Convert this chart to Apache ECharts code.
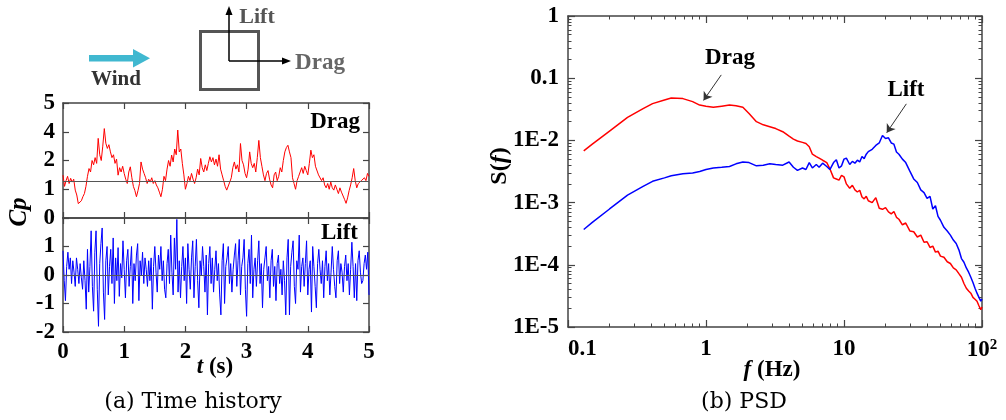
<!DOCTYPE html>
<html>
<head>
<meta charset="utf-8">
<script src="https://cdn.jsdelivr.net/npm/echarts@6/dist/echarts.min.js"></script>
<style>
  html, body { margin: 0; padding: 0; background: #fff; }
  #chart { width: 1006px; height: 420px; }
</style>
</head>
<body>
<div id="chart"></div>
<script>
// ---- time history: pressure coefficients Cp ----
const dragStep = 0.025;   // s between drag samples
const dragCp = [
  1.49,1.1,1.3,1.45,1.2,1.38,1.25,1.35,0.97,0.8,
  0.5,0.45,0.6,0.74,0.85,1.1,1.45,1.72,1.6,2.0,
  1.85,2.1,1.9,2.77,2.2,2.0,2.5,3.11,2.6,2.42,
  2.55,2.3,2.1,2.2,1.9,2.05,1.49,1.75,1.6,1.8,
  1.55,1.35,1.2,1.6,1.78,1.4,1.1,0.95,0.74,0.95,
  1.2,1.95,1.7,1.55,1.4,1.2,1.35,1.25,1.4,1.2,
  1.3,1.15,1.05,0.9,0.74,1.0,1.45,1.3,1.7,2.0,
  1.8,2.19,1.95,2.4,2.2,3.06,2.3,2.4,1.9,1.5,
  1.0,1.2,1.45,1.3,1.55,1.35,1.2,1.4,1.7,1.5,
  2.07,1.75,1.6,1.85,1.65,1.9,2.13,1.95,2.1,1.85,
  2.05,1.8,2.2,1.7,1.5,1.3,1.1,0.97,0.95,1.25,
  1.4,1.75,1.95,1.7,1.85,1.6,2.59,2.0,1.85,1.55,
  1.4,1.7,2.3,1.9,1.75,1.9,1.6,2.1,2.7,2.1,
  1.8,1.5,1.3,1.55,1.65,1.35,1.15,1.05,1.5,1.6,
  1.3,1.45,1.75,1.6,2.0,2.3,2.45,2.53,2.3,2.1,
  1.4,1.2,1.0,1.3,1.45,1.6,1.75,1.55,1.8,1.65,
  1.5,1.9,2.36,2.1,2.2,1.8,1.75,1.5,1.45,1.3,
  1.4,1.15,1.05,1.2,1.0,1.25,1.05,0.97,1.15,1.0,
  0.85,1.05,0.9,0.85,0.65,0.51,0.7,0.95,1.15,1.4,
  1.72,1.3,1.05,1.2,1.15,1.3,1.25,1.4,1.3,1.55,1.45
];
const dragMean = 1.28;

const liftStep = 0.02;    // s between lift samples
const liftCp = [
  0.85,-0.2,-0.9,0.3,0.8,   0.2,0.6,-0.3,0.5,0.1,
  -0.4,0.6,0.2,-0.3,0.4,    -0.1,-0.5,0.5,-0.2,-1.2,
  0.9,-0.6,0.3,1.55,-0.4,   -1.27,0.8,1.55,-0.5,-1.8,
  0.4,1.1,1.65,-0.6,-1.56,  0.5,1.0,-0.7,0.3,0.9,
  -0.3,1.3,-1.0,0.6,-0.2,   0.96,-0.75,0.4,-0.1,1.2,
  0.2,-0.8,0.5,0.9,-0.4,    0.3,1.0,-1.0,0.4,-0.2,
  0.7,1.1,-0.9,0.5,0.0,     0.8,-0.3,0.6,0.2,-0.4,
  0.5,-0.2,0.6,-1.2,0.3,    1.0,0.1,-0.6,0.7,0.2,
  1.0,-0.2,0.5,-0.5,-0.8,   0.4,0.9,-0.3,1.4,0.1,
  -0.7,1.3,0.2,1.95,-0.6,   0.5,-0.8,0.3,1.0,-0.2,
  0.6,-1.0,1.1,0.2,-0.5,    0.6,1.2,-0.8,0.3,1.25,
  -0.2,-1.15,0.5,0.0,1.0,   0.3,-0.6,0.7,-1.4,0.4,
  1.0,-0.3,0.6,-0.6,0.2,    0.85,-0.2,0.4,-0.7,-1.4,
  0.5,1.1,-1.0,0.3,0.6,     1.0,-0.3,0.4,-0.6,0.2,
  0.7,1.1,-0.4,0.5,1.25,    -0.7,0.3,0.6,1.25,-0.5,
  -1.45,0.4,0.9,-0.3,1.4,   -0.8,0.2,0.6,-0.4,0.5,
  1.2,-0.3,0.4,-1.15,0.2,   0.6,1.0,-0.2,0.3,-0.8,
  0.5,0.9,-0.4,0.3,-0.9,    0.4,0.7,-0.3,0.2,-0.7,
  0.5,-0.2,-1.4,0.6,1.25,   -1.4,0.3,0.8,1.2,-0.4,
  -1.0,0.5,0.2,1.4,-0.6,    0.3,0.6,-0.4,0.4,1.2,
  -0.7,0.2,0.5,-1.3,1.0,    0.3,-0.4,-1.15,0.4,0.9,
  0.2,-0.3,0.5,-0.8,0.3,    0.85,-0.2,0.4,-0.7,0.1,
  1.0,0.2,-0.4,-0.8,0.5,    0.85,-0.3,0.4,0.1,-0.6,
  0.3,0.7,-0.2,0.4,-0.7,    0.2,1.15,0.3,-0.8,0.4,
  -0.9,0.5,0.85,0.1,-0.3,   -0.2,0.4,0.7,0.2,0.8,
  -0.7
];

// Drag axis tick labels, one per unit step from the bottom
const dragTickLabels = ['0', '1', '2', '4', '5'];

// ---- power spectral density ----
const psdFreq = [
  0.13,0.15,0.2,0.27,0.35,0.41,0.5,0.56,0.68,0.8,
  0.9,1.0,1.13,1.3,1.48,1.65,1.85,2.05,2.32,2.6,
  2.9,3.2,3.6,4.0,4.3,4.6,5.0,5.3,5.6,5.9,
  6.3,6.6,7.0,7.5,7.9,8.4,8.8,9.2,9.6,10,
  10.4,11,11.5,12,12.5,13,13.5,14,14.5,15,
  16,17,18,19,20,21,22,23,24,25,
  26.5,28,30,32,34,36,38,40,42,44,
  46,48,50,53,56,59,62,65,68,71,
  74,77,80,83,86,89,92,95,98,100
];
const psdDrag = [
  6.8e-3,8.7e-3,0.0141,0.0234,0.0324,0.039,0.0447,0.048,0.047,0.042,
  0.037,0.0355,0.034,0.0355,0.037,0.036,0.034,0.027,0.020,0.0178,
  0.0166,0.0155,0.0138,0.0117,0.0105,9.8e-3,9.3e-3,8.9e-3,7.9e-3,6.0e-3,
  5.5e-3,5.2e-3,4.8e-3,4.4e-3,3.5e-3,2.5e-3,2.4e-3,2.3e-3,2.75e-3,2.6e-3,
  2.0e-3,1.7e-3,1.9e-3,1.6e-3,1.48e-3,1.58e-3,1.23e-3,1.15e-3,1.26e-3,1.07e-3,
  1.0e-3,1.2e-3,8.1e-4,7.8e-4,8.3e-4,7.1e-4,6.6e-4,7.2e-4,5.8e-4,5.4e-4,
  4.4e-4,4.7e-4,3.5e-4,3.4e-4,2.8e-4,3.0e-4,2.3e-4,2.35e-4,1.9e-4,2.0e-4,
  1.6e-4,1.66e-4,1.38e-4,1.32e-4,1.12e-4,1.05e-4,8.9e-5,8.3e-5,7.2e-5,6.3e-5,
  5.0e-5,4.2e-5,3.8e-5,3.5e-5,3.0e-5,2.8e-5,2.6e-5,2.2e-5,1.9e-5,2.1e-5
];
const psdLift = [
  3.7e-4,4.8e-4,7.9e-4,1.32e-3,1.82e-3,2.2e-3,2.5e-3,2.7e-3,2.9e-3,3.0e-3,
  3.16e-3,3.4e-3,3.6e-3,3.7e-3,3.8e-3,4.2e-3,4.5e-3,4.4e-3,3.9e-3,4.0e-3,
  4.2e-3,4.1e-3,4.0e-3,4.5e-3,3.7e-3,3.3e-3,3.6e-3,3.4e-3,4.4e-3,3.6e-3,
  4.1e-3,3.7e-3,4.3e-3,3.8e-3,3.4e-3,4.4e-3,4.9e-3,3.6e-3,3.9e-3,5.0e-3,
  5.2e-3,4.1e-3,4.6e-3,4.3e-3,4.8e-3,4.5e-3,5.5e-3,5.1e-3,6.0e-3,6.6e-3,
  7.2e-3,8.3e-3,9.1e-3,0.012,0.0107,0.011,9.1e-3,8.7e-3,6.5e-3,6.0e-3,
  5.0e-3,4.4e-3,3.2e-3,2.4e-3,2.1e-3,1.6e-3,1.45e-3,1.17e-3,1.26e-3,7.9e-4,
  8.9e-4,6.0e-4,5.2e-4,4.0e-4,3.5e-4,3.0e-4,2.5e-4,2.2e-4,1.74e-4,1.26e-4,
  1.1e-4,8.9e-5,7.6e-5,6.3e-5,5.2e-5,4.2e-5,3.5e-5,3.0e-5,2.6e-5,2.8e-5
];
const psdFreqTicks = [0.1, 1, 10, 100];
const psdLevelTicks = [1e-5, 1e-4, 1e-3, 1e-2, 0.1, 1];

// minor ticks at 2..9 within each decade
function minorTicks(decades) {
  const out = [];
  decades.forEach(d => { for (let k = 2; k <= 9; k++) out.push(+(d * k).toPrecision(3)); });
  return out;
}
const psdFreqMinor = minorTicks([0.1, 1, 10]);
const psdLevelMinor = minorTicks([1e-5, 1e-4, 1e-3, 1e-2, 0.1]);

// ---- styling ----
const AXIS = '#444';
const SERIF = "'Liberation Serif', 'Times New Roman', serif";
const tickFont = { fontFamily: SERIF, fontWeight: 'bold', fontSize: 23, color: '#000' };

function boxAxis(extra) {
  return Object.assign({
    splitLine: { show: false },
    axisLine: { show: true, onZero: false, lineStyle: { color: AXIS, width: 1.5 } },
    axisTick: { show: true, inside: true, length: 6, lineStyle: { color: AXIS, width: 1.2 } },
    axisLabel: { show: false }
  }, extra);
}
function minorAxis(extra, values) {
  return Object.assign({
    splitLine: { show: false },
    axisLine: { show: false },
    axisTick: { show: true, inside: true, length: 3.5, customValues: values,
                lineStyle: { color: AXIS, width: 1 } },
    axisLabel: { show: false }
  }, extra);
}

const timeX = { type: 'value', min: 0, max: 5, interval: 1 };
const freqX = { type: 'log', logBase: 10, min: 0.1, max: 100 };
const levelY = { type: 'log', logBase: 10, min: 1e-5, max: 1 };

function levelLabel(v) {
  const e = Math.round(Math.log10(v));
  return e >= -1 ? String(+v.toFixed(1)) : '1E' + e;
}
function freqLabel(v) {
  const e = Math.round(Math.log10(v));
  if (e < 0) return v.toFixed(-e);
  if (e < 2) return String(Math.round(v));
  return '{n|10}{s|' + e + '}';
}

const dragSeries = dragCp.map((v, i) => [+(i * dragStep).toFixed(3), v]);
const liftSeries = liftCp.map((v, i) => [+(i * liftStep).toFixed(3), v]);
const psdDragSeries = psdFreq.map((f, i) => [f, psdDrag[i]]);
const psdLiftSeries = psdFreq.map((f, i) => [f, psdLift[i]]);

const chart = echarts.init(document.getElementById('chart'), null, { renderer: 'canvas' });

const txt = (x, y, text, font, fill, extra) => Object.assign({
  type: 'text', x, y, silent: true,
  style: Object.assign({ text, font, fill: fill || '#000', align: 'center', verticalAlign: 'middle' }, extra || {})
}, {});

const option = {
  animation: false,
  backgroundColor: '#fff',
  grid: [
    { left: 63, top: 103, width: 306, height: 115, outerBoundsMode: 'none' },
    { left: 63, top: 218, width: 306, height: 114, outerBoundsMode: 'none' },
    { left: 568, top: 16, width: 414, height: 311, outerBoundsMode: 'none' }
  ],
  xAxis: [
    boxAxis(Object.assign({ gridIndex: 0, position: 'bottom' }, timeX)),
    boxAxis(Object.assign({ gridIndex: 0, position: 'top' }, timeX)),
    boxAxis(Object.assign({ gridIndex: 1, position: 'bottom',
      axisLabel: Object.assign({ show: true, margin: 9 }, tickFont) }, timeX)),
    boxAxis(Object.assign({ gridIndex: 1, position: 'top' }, timeX)),
    boxAxis(Object.assign({ gridIndex: 2, position: 'bottom',
      axisTick: { show: true, inside: true, length: 7, customValues: psdFreqTicks, lineStyle: { color: AXIS, width: 1.2 } },
      axisLabel: Object.assign({ show: true, margin: 11, customValues: psdFreqTicks, formatter: freqLabel,
        alignMinLabel: 'left',
        rich: {
          n: { fontFamily: SERIF, fontWeight: 'bold', fontSize: 23, color: '#000' },
          s: { fontFamily: SERIF, fontWeight: 'bold', fontSize: 15, color: '#000', verticalAlign: 'top', padding: [0, 0, 10, 0] }
        } }, tickFont) }, freqX)),
    minorAxis(Object.assign({ gridIndex: 2, position: 'bottom' }, freqX), psdFreqMinor),
    boxAxis(Object.assign({ gridIndex: 2, position: 'top',
      axisTick: { show: true, inside: true, length: 7, customValues: psdFreqTicks, lineStyle: { color: AXIS, width: 1.2 } } }, freqX)),
    minorAxis(Object.assign({ gridIndex: 2, position: 'top' }, freqX), psdFreqMinor)
  ],
  yAxis: [
    boxAxis({ gridIndex: 0, position: 'left', type: 'value', min: 0, max: 4, interval: 1,
      axisLabel: Object.assign({ show: true, margin: 8, formatter: v => dragTickLabels[v] }, tickFont) }),
    boxAxis({ gridIndex: 0, position: 'right', type: 'value', min: 0, max: 4, interval: 1 }),
    boxAxis({ gridIndex: 1, position: 'left', type: 'value', min: -2, max: 2, interval: 1,
      axisLabel: Object.assign({ show: true, margin: 8, showMaxLabel: false }, tickFont) }),
    boxAxis({ gridIndex: 1, position: 'right', type: 'value', min: -2, max: 2, interval: 1 }),
    boxAxis(Object.assign({ gridIndex: 2, position: 'left',
      axisTick: { show: true, inside: true, length: 7, customValues: psdLevelTicks, lineStyle: { color: AXIS, width: 1.2 } },
      axisLabel: Object.assign({ show: true, margin: 9, customValues: psdLevelTicks, formatter: levelLabel }, tickFont) }, levelY)),
    minorAxis(Object.assign({ gridIndex: 2, position: 'left' }, levelY), psdLevelMinor),
    boxAxis(Object.assign({ gridIndex: 2, position: 'right',
      axisTick: { show: true, inside: true, length: 7, customValues: psdLevelTicks, lineStyle: { color: AXIS, width: 1.2 } } }, levelY)),
    minorAxis(Object.assign({ gridIndex: 2, position: 'right' }, levelY), psdLevelMinor)
  ],
  series: [
    {
      name: 'Drag', type: 'line', xAxisIndex: 0, yAxisIndex: 0, data: dragSeries,
      showSymbol: false, symbol: 'none', lineStyle: { color: '#ff0000', width: 1 }, z: 3,
      markLine: { silent: true, symbol: 'none', label: { show: false },
        lineStyle: { color: '#555', width: 1, type: 'solid' }, data: [{ yAxis: dragMean }] }
    },
    {
      name: 'Lift', type: 'line', xAxisIndex: 2, yAxisIndex: 2, data: liftSeries,
      showSymbol: false, symbol: 'none', lineStyle: { color: '#0000ff', width: 1 }, z: 3,
      markLine: { silent: true, symbol: 'none', label: { show: false },
        lineStyle: { color: '#555', width: 1, type: 'solid' }, data: [{ yAxis: 0 }] }
    },
    {
      name: 'Drag PSD', type: 'line', xAxisIndex: 4, yAxisIndex: 4, data: psdDragSeries,
      showSymbol: false, symbol: 'none', lineStyle: { color: '#ff0000', width: 1.5 }, z: 3,
      markLine: { silent: true, symbol: ['none', 'arrow'], symbolSize: 8, label: { show: false },
        lineStyle: { color: '#333', width: 1, type: 'solid' },
        data: [[{ coord: [1.29, 0.113] }, { coord: [0.96, 0.044] }]] }
    },
    {
      name: 'Lift PSD', type: 'line', xAxisIndex: 4, yAxisIndex: 4, data: psdLiftSeries,
      showSymbol: false, symbol: 'none', lineStyle: { color: '#0000ff', width: 1.5 }, z: 3,
      markLine: { silent: true, symbol: ['none', 'arrow'], symbolSize: 8, label: { show: false },
        lineStyle: { color: '#333', width: 1, type: 'solid' },
        data: [[{ coord: [28.3, 0.0387] }, { coord: [20.4, 0.0133] }]] }
    }
  ],
  graphic: [
    // wind arrow
    { type: 'rect', silent: true, shape: { x: 89, y: 55, width: 45, height: 6.5 }, style: { fill: '#40b8d0' } },
    { type: 'polygon', silent: true, shape: { points: [[133, 49], [150, 58.3], [133, 67.6]] }, style: { fill: '#40b8d0' } },
    txt(116, 80, 'Wind', 'bold 21px ' + SERIF, '#333'),
    // body section with force directions
    { type: 'rect', silent: true, shape: { x: 200.5, y: 31.5, width: 58, height: 58 },
      style: { fill: 'none', stroke: '#555', lineWidth: 3 } },
    { type: 'line', silent: true, shape: { x1: 229, y1: 61, x2: 229, y2: 13 }, style: { stroke: '#000', lineWidth: 1.5 } },
    { type: 'polygon', silent: true, shape: { points: [[229, 6], [225.5, 15], [232.5, 15]] }, style: { fill: '#000' } },
    { type: 'line', silent: true, shape: { x1: 229, y1: 61, x2: 283, y2: 61 }, style: { stroke: '#000', lineWidth: 1.5 } },
    { type: 'polygon', silent: true, shape: { points: [[291, 61], [282, 57.5], [282, 64.5]] }, style: { fill: '#000' } },
    txt(257, 17, 'Lift', 'bold 22px ' + SERIF, '#555'),
    txt(320, 63, 'Drag', 'bold 23px ' + SERIF, '#666'),
    // panel labels
    txt(360, 122, 'Drag', 'bold 23px ' + SERIF, '#000', { align: 'right' }),
    txt(358, 233, 'Lift', 'bold 23px ' + SERIF, '#000', { align: 'right' }),
    txt(730, 58, 'Drag', 'bold 23px ' + SERIF, '#000'),
    txt(906, 90, 'Lift', 'bold 23px ' + SERIF, '#000'),
    // axis titles
    { type: 'text', x: 20, y: 212, rotation: Math.PI / 2, silent: true,
      style: { text: 'Cp', font: 'italic bold 25px ' + SERIF, fill: '#000', align: 'center', verticalAlign: 'middle' } },
    { type: 'text', x: 500, y: 166, rotation: Math.PI / 2, silent: true,
      style: { text: '{r|S(}{i|f}{r|)}', align: 'center', verticalAlign: 'middle',
        rich: { r: { font: 'bold 24px ' + SERIF, fill: '#000' }, i: { font: 'italic bold 24px ' + SERIF, fill: '#000' } } } },
    { type: 'text', x: 215, y: 367, silent: true,
      style: { text: '{i|t}{r| (s)}', align: 'center', verticalAlign: 'middle',
        rich: { r: { font: 'bold 23px ' + SERIF, fill: '#000' }, i: { font: 'italic bold 23px ' + SERIF, fill: '#000' } } } },
    { type: 'text', x: 772, y: 370, silent: true,
      style: { text: '{i|f}{r| (Hz)}', align: 'center', verticalAlign: 'middle',
        rich: { r: { font: 'bold 23px ' + SERIF, fill: '#000' }, i: { font: 'italic bold 23px ' + SERIF, fill: '#000' } } } },
    // captions
    txt(193, 402, '(a) Time history', '22px "DejaVu Serif", serif', '#000'),
    txt(744, 402, '(b) PSD', '22px "DejaVu Serif", serif', '#000')
  ]
};

chart.setOption(option);
</script>
</body>
</html>
